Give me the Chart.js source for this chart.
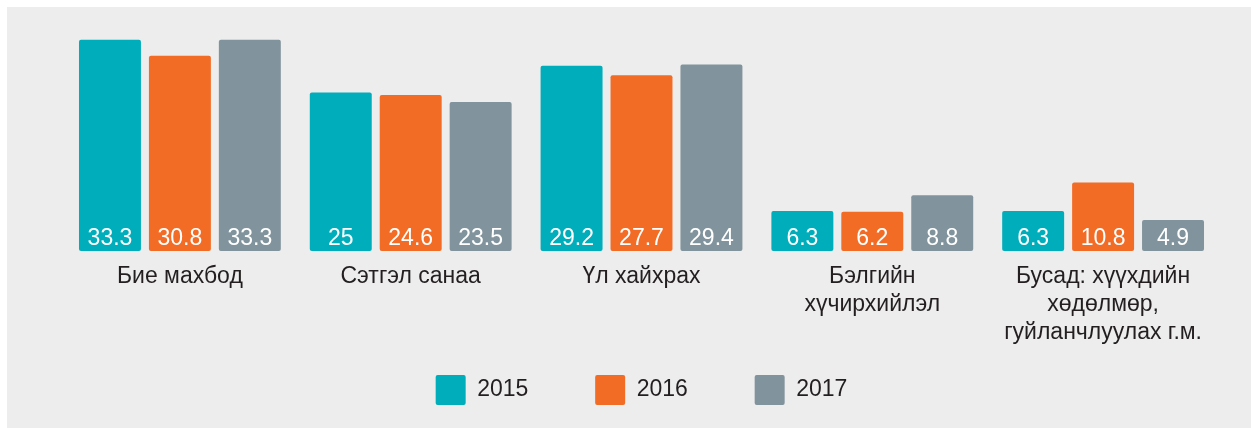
<!DOCTYPE html>
<html>
<head>
<meta charset="utf-8">
<script src="https://cdn.jsdelivr.net/npm/chart.js@4/dist/chart.umd.min.js"></script>
<style>
  body { margin: 0; background: #fff; }
  #panel { position: absolute; left: 7px; top: 7px; right: 0; bottom: 0; background: #ededed; }
  #chart { position: absolute; left: 0; top: 0; }
</style>
</head>
<body>
<div id="panel"></div>
<canvas id="chart" width="1251" height="428"></canvas>
<script>
const categories = [
  ['Бие махбод'],
  ['Сэтгэл санаа'],
  ['Үл хайхрах'],
  ['Бэлгийн', 'хүчирхийлэл'],
  ['Бусад: хүүхдийн', 'хөдөлмөр,', 'гуйланчлуулах г.м.']
]
const years = ['2015', '2016', '2017']
const values2015 = [33.3, 25, 29.2, 6.3, 6.3]
const values2016 = [30.8, 24.6, 27.7, 6.2, 10.8]
const values2017 = [33.3, 23.5, 29.4, 8.8, 4.9]
const colors = ['rgb(0, 173, 187)', 'rgb(243, 108, 38)', 'rgb(129, 147, 156)']

const font = '"Liberation Sans", Arial, Helvetica, sans-serif'

// white value labels sitting at the foot of each bar
const valueLabels = {
  id: 'valueLabels',
  afterDatasetsDraw (chart) {
    const ctx = chart.ctx
    ctx.save()
    ctx.fillStyle = '#fff'
    ctx.font = '23px ' + font
    ctx.textAlign = 'center'
    ctx.textBaseline = 'alphabetic'
    chart.data.datasets.forEach((ds, i) => {
      chart.getDatasetMeta(i).data.forEach((bar, j) => {
        ctx.fillText(String(ds.data[j]), bar.x, bar.base - 6)
      })
    })
    ctx.restore()
  }
}

const datasets = [values2015, values2016, values2017].map((data, i) => ({
  label: years[i],
  data,
  backgroundColor: colors[i],
  borderWidth: 0,
  borderRadius: 2,
  borderSkipped: false,
  categoryPercentage: 0.909,
  barPercentage: 0.886
}))

new Chart(document.getElementById('chart').getContext('2d'), {
  type: 'bar',
  data: { labels: categories, datasets },
  plugins: [valueLabels],
  options: {
    responsive: false,
    animation: false,
    layout: { padding: { left: 64.5, right: 32.5, top: 29, bottom: 13 } },
    plugins: {
      tooltip: { enabled: false },
      legend: {
        position: 'bottom',
        labels: {
          boxWidth: 30,
          boxHeight: 30,
          padding: 22.1,
          useBorderRadius: true,
          borderRadius: 2,
          color: '#231f20',
          font: { family: font, size: 23 },
          // wider gaps between legend entries than between rows
          generateLabels (chart) {
            const items = Chart.defaults.plugins.legend.labels.generateLabels(chart)
            items.forEach((it, i) => {
              if (i < items.length - 1) it.text += ' '.repeat(7)
            })
            return items
          }
        }
      }
    },
    scales: {
      x: {
        grid: { display: false, drawTicks: false },
        border: { display: false },
        ticks: {
          color: '#231f20',
          font: { family: font, size: 23, lineHeight: 1.217 },
          padding: 12,
          maxRotation: 0,
          autoSkip: false
        },
        afterFit: s => { s.height = 101.9 }
      },
      y: {
        display: false,
        min: 0,
        max: 35
      }
    }
  }
})
</script>
</body>
</html>
